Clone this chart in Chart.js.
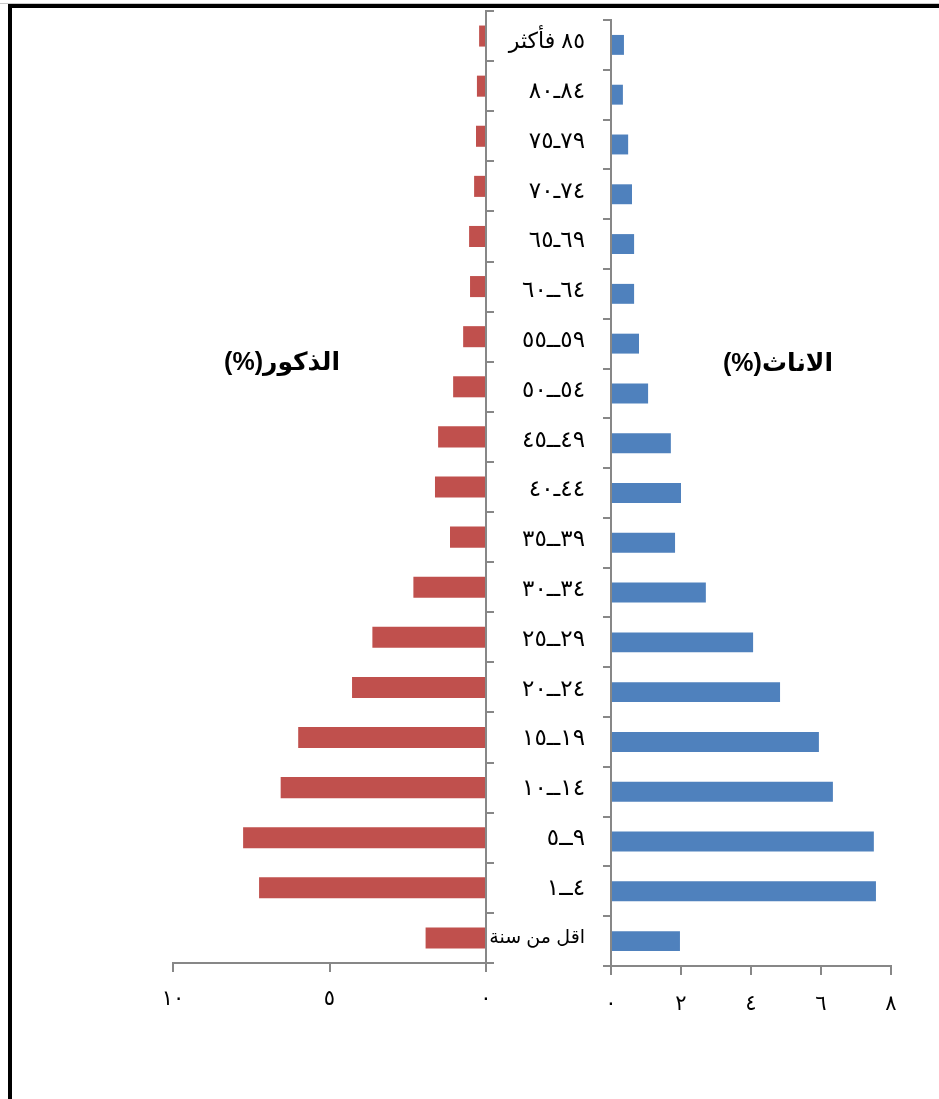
<!DOCTYPE html>
<html>
<head>
<meta charset="utf-8">
<script src="https://cdn.jsdelivr.net/npm/chart.js@4/dist/chart.umd.min.js"></script>
<style>
  html, body { margin: 0; padding: 0; background: #fff; overflow: hidden; }
  body { width: 939px; height: 1099px; position: relative; }
  #greyline { position: absolute; left: 0; top: 3px; width: 939px; height: 1px; background: #c8c8c8; }
  #ftop { position: absolute; left: 8px; top: 4px; width: 931px; height: 4px; background: #000; }
  #fleft { position: absolute; left: 8px; top: 4px; width: 4px; height: 1095px; background: #000; }
  canvas { position: absolute; top: 0; }
  #cl { left: 0; }
  #cr { left: 470px; }
  .title { position: absolute; font-family: "Liberation Sans", Arial, "DejaVu Sans", sans-serif; font-weight: bold; font-size: 25px; color: #000; white-space: nowrap; direction: rtl; line-height: 30px; }
  #tm { right: 599px; top: 346px; }
  #tf { right: 106px; top: 347px; }
</style>
</head>
<body>
<div id="greyline"></div>
<div id="ftop"></div>
<div id="fleft"></div>
<canvas id="cl" width="500" height="1099"></canvas>
<canvas id="cr" width="469" height="1099"></canvas>
<div class="title" id="tm">الذكور(%)</div>
<div class="title" id="tf">الاناث(%)</div>
<script>
// Age groups, top to bottom
const categories = ['٨٥ فأكثر','٨٠ـ٨٤','٧٥ـ٧٩','٧٠ـ٧٤','٦٥ـ٦٩','٦٠ــ٦٤','٥٥ــ٥٩','٥٠ــ٥٤','٤٥ــ٤٩','٤٠ـ٤٤','٣٥ــ٣٩','٣٠ــ٣٤','٢٥ــ٢٩','٢٠ــ٢٤','١٥ــ١٩','١٠ــ١٤','٥ــ٩','١ــ٤','اقل من سنة'];
// Males (%)
const males = [0.22,0.29,0.32,0.38,0.54,0.51,0.73,1.05,1.53,1.63,1.15,2.32,3.63,4.28,6.0,6.56,7.76,7.25,1.93];
// Females (%)
const females = [0.37,0.34,0.49,0.60,0.66,0.66,0.80,1.06,1.71,2.00,1.83,2.71,4.06,4.83,5.94,6.34,7.51,7.57,1.97];
// Axis tick labels
const maleTicks = ['٠','٥','١٠'];
const maleTickValues = [0,5,10];
const femaleTicks = ['٠','٢','٤','٦','٨'];
const femaleTickValues = [0,2,4,6,8];

const axisColor = '#878787';
const fontFamily = '"Liberation Sans", Arial, "DejaVu Sans", sans-serif';
const rangeRe = /^[\u0660-\u0669]+\u0640+[\u0660-\u0669]+$/;

function catLabel(s) {
  // numeric ranges shown left-to-right
  if (rangeRe.test(s)) return '\u202D' + s + '\u202C';
  return s;
}
function catFontSize(s) {
  if (rangeRe.test(s)) return 23;
  if (/^[\u0660-\u0669]/.test(s)) return 22;
  return 19;
}
function noPad(s) { s.paddingTop = 0; s.paddingBottom = 0; s.paddingLeft = 0; s.paddingRight = 0; }

new Chart(document.getElementById('cl'), {
  type: 'bar',
  data: {
    labels: categories,
    datasets: [{ data: males, backgroundColor: '#C0504D', barPercentage: 0.42, categoryPercentage: 1 }]
  },
  options: {
    indexAxis: 'y',
    responsive: false,
    animation: false,
    layout: { padding: { left: 173, top: 11, right: 6, bottom: 0 } },
    plugins: { legend: { display: false }, tooltip: { enabled: false } },
    scales: {
      x: {
        type: 'linear', min: 0, max: 10, reverse: true,
        afterBuildTicks: (s) => { s.ticks = maleTickValues.map(v => ({ value: v })); },
        ticks: {
          callback: (v) => maleTicks[maleTickValues.indexOf(v)],
          color: '#000', font: { family: fontFamily, size: 21 }, padding: 15, maxRotation: 0
        },
        grid: { drawOnChartArea: false, drawTicks: true, tickLength: 9, color: axisColor, lineWidth: 2 },
        border: { color: axisColor, width: 2 },
        afterFit: (s) => { s.height = 136; noPad(s); }
      },
      y: {
        position: 'right',
        ticks: { display: false },
        grid: { drawOnChartArea: false, drawTicks: true, tickLength: 8, color: axisColor, lineWidth: 2, offset: true },
        border: { color: axisColor, width: 2 },
        afterFit: (s) => { s.width = 8; noPad(s); }
      }
    }
  }
});

new Chart(document.getElementById('cr'), {
  type: 'bar',
  data: {
    labels: categories,
    datasets: [{ data: females, backgroundColor: '#4F81BD', barPercentage: 0.4, categoryPercentage: 1 }]
  },
  options: {
    indexAxis: 'y',
    responsive: false,
    animation: false,
    layout: { padding: { left: 0, top: 20, right: 48, bottom: 0 } },
    plugins: { legend: { display: false }, tooltip: { enabled: false } },
    scales: {
      x: {
        type: 'linear', min: 0, max: 8,
        afterBuildTicks: (s) => { s.ticks = femaleTickValues.map(v => ({ value: v })); },
        ticks: {
          callback: (v) => femaleTicks[femaleTickValues.indexOf(v)],
          color: '#000', font: { family: fontFamily, size: 21 }, padding: 17, maxRotation: 0
        },
        grid: { drawOnChartArea: false, drawTicks: true, tickLength: 9, color: axisColor, lineWidth: 2 },
        border: { color: axisColor, width: 2 },
        afterFit: (s) => { s.height = 133; noPad(s); }
      },
      y: {
        position: 'left',
        ticks: {
          callback: function(v, i) { return catLabel(this.getLabelForValue(v)); },
          color: '#000',
          font: (ctx) => ({ family: fontFamily, size: catFontSize(categories[ctx.index] || '') }),
          padding: 18, autoSkip: false, labelOffset: -3
        },
        grid: { drawOnChartArea: false, drawTicks: true, tickLength: 8, color: axisColor, lineWidth: 2, offset: true },
        border: { color: axisColor, width: 2 },
        afterFit: (s) => { s.width = 141; noPad(s); }
      }
    }
  }
});
</script>
</body>
</html>
